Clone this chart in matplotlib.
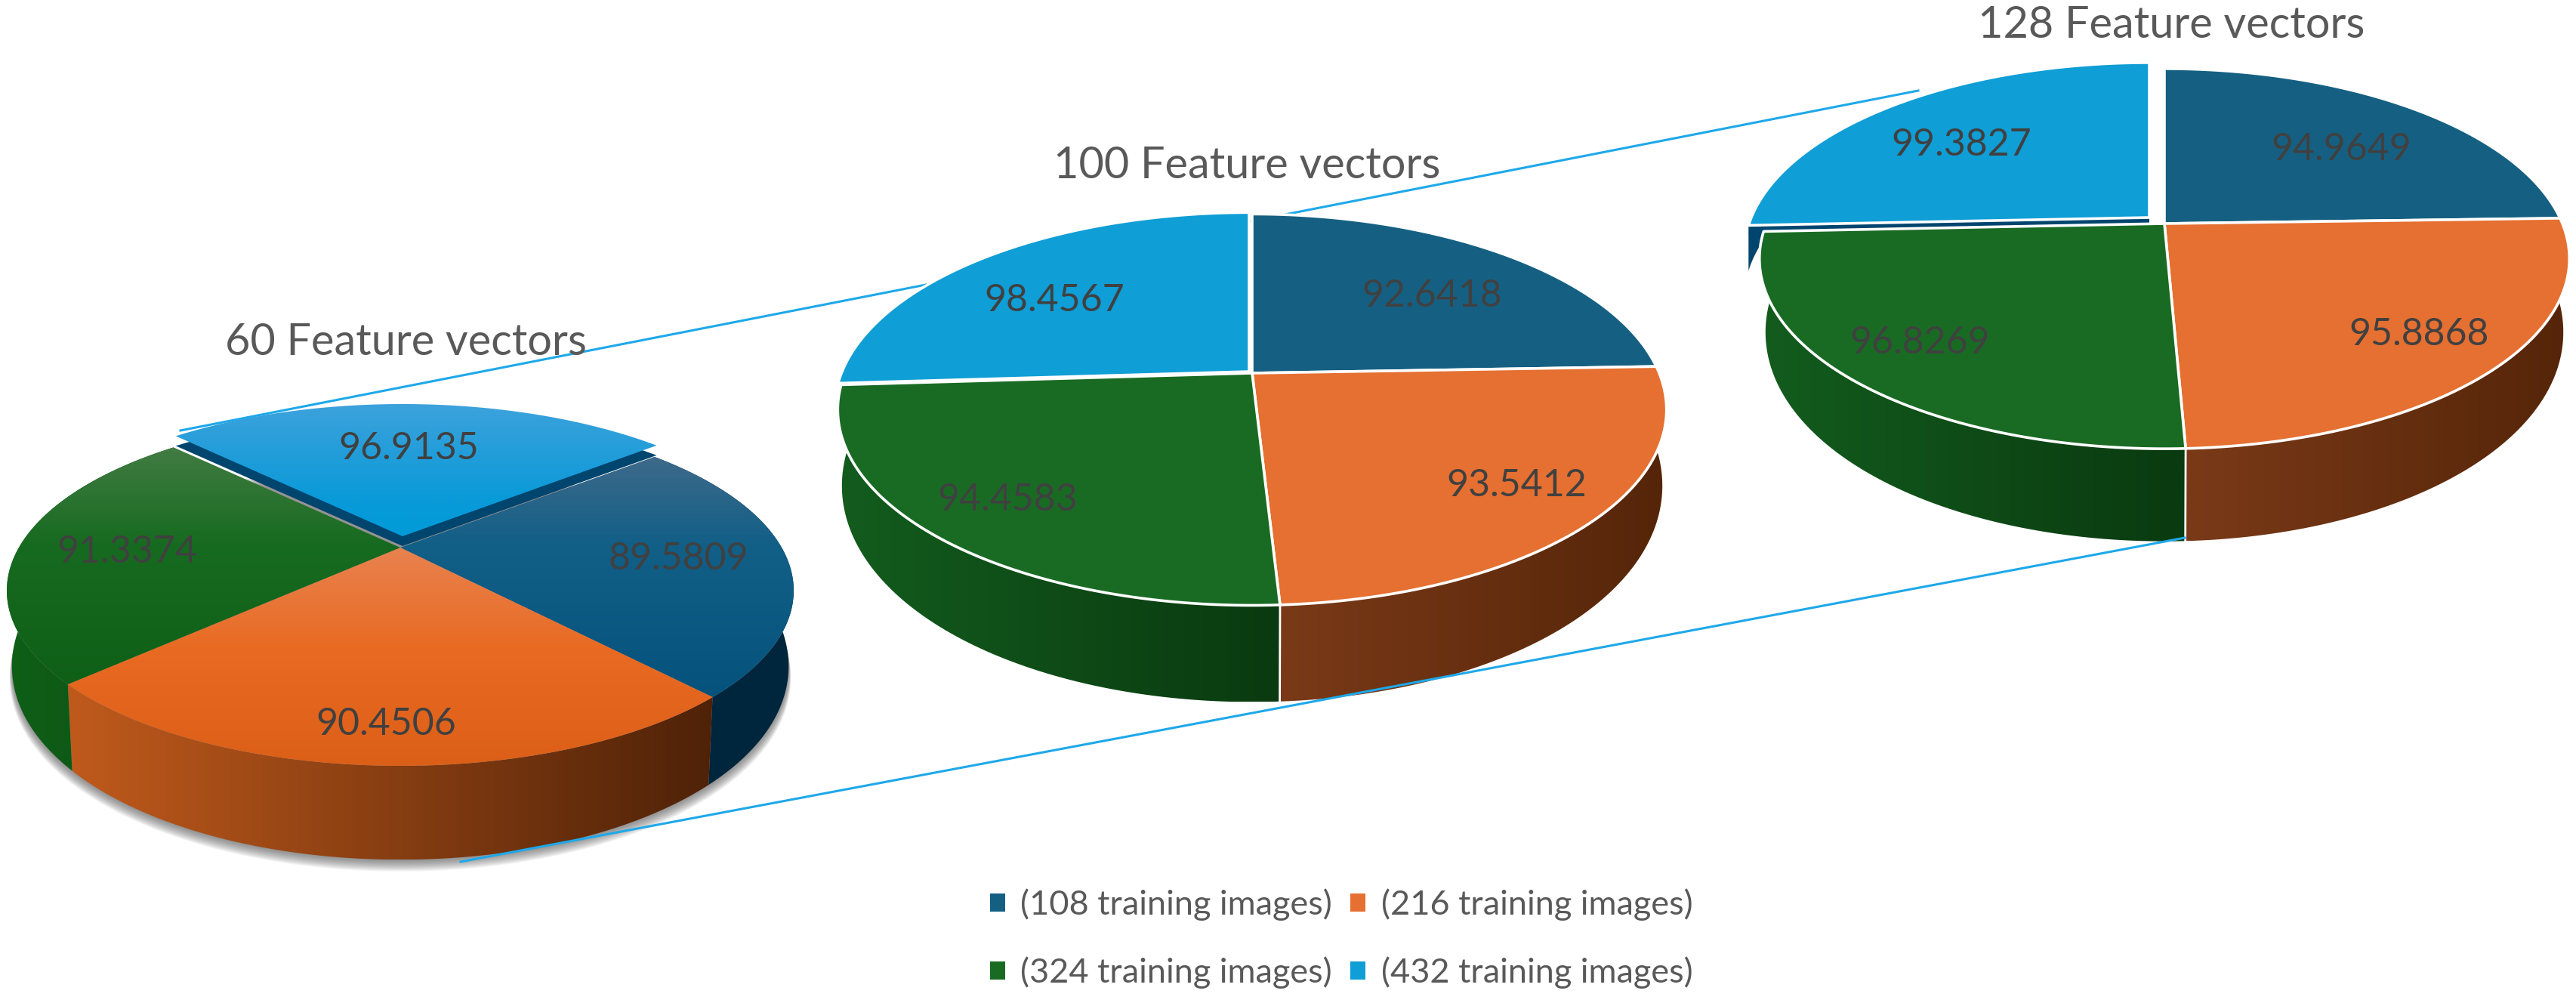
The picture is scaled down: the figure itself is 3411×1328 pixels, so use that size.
import numpy as np
import matplotlib
matplotlib.use("Agg")
import matplotlib.pyplot as plt
from matplotlib.colors import to_rgb
from matplotlib.patches import Patch, Polygon

plt.rcParams['font.family'] = ['Lato', 'DejaVu Sans']

# the chart's values
titles = ["60 Feature vectors", "100 Feature vectors", "128 Feature vectors"]
legend_labels = ["(108 training images)", "(216 training images)", "(324 training images)", "(432 training images)"]
acc_60 = [89.5809, 90.4506, 91.3374, 96.9135]
acc_100 = [92.6418, 93.5412, 94.4583, 98.4567]
acc_128 = [94.9649, 95.8868, 96.8269, 99.3827]
all_acc = [acc_60, acc_100, acc_128]

colors = ['#156082', '#E57031', '#196B24', '#0F9ED5']

# axes run in image pixels, each pie is a flat circle seen through a perspective k
pies = [
    dict(cx=530, cy=725, a=505, h=218, k=0.2456, s=0.987, d=128, start=50.4, off=(3, -15), wall=13, wall_side=0, wall_z=4.5),
    dict(cx=1658, cy=494, a=539, h=250, k=0.187, s=0.99, d=131, start=0, off=(-4, -2), wall=0, wall_side=0, wall_z=3.5),
    dict(cx=2866, cy=296, a=527, h=243, k=0.185, s=0.985, d=127, start=0, off=(-20, -8), wall=11, wall_side=60, wall_z=3.5),
]
title_pos = [(537, 453), (1651, 219), (2875, 33)]
label_pos = [
    [(898, 740), (511, 959), (168, 731), (541, 594)],
    [(1896, 392), (2008, 643), (1334, 662), (1396, 398)],
    [(3100, 198), (3203, 443), (2542, 454), (2597, 192)],
]

# gradients: (top face stops per slice for the first pie, side colours left/right)
pie1_top = [
    [(602, '#3f6a8a'), (720, '#125f87'), (923, '#05527d')],
    [(725, '#e8824f'), (860, '#e96a22'), (1014, '#dc5f18')],
    [(591, '#427c43'), (720, '#176b20'), (910, '#0f5f17')],
    [(535, '#3da2dc'), (660, '#0a9ad8'), (710, '#009ad9')],
]
pie1_side = [('#00263d', '#00263d'), ('#c05a1c', '#4f2208'), ('#0f5f17', '#0c5216'), ('#00456e', '#00456e')]
flat_side = [('#00263d', '#00263d'), ('#7a3a18', '#552509'), ('#135c1e', '#0a3a10'), ('#00456e', '#00456e')]

fig = plt.figure(figsize=(34.11, 13.28), dpi=100)
ax = fig.add_axes([0, 0, 1, 1])


def top_rim(p, deg):
    t = np.radians(deg)
    den = 1 + p['k'] * np.cos(t)
    return p['cx'] + p['a'] * np.sin(t) / den, p['cy'] - p['h'] * np.cos(t) / den


def low_rim(p, deg):
    # the wall looks taller at the front than at the sides
    x, y = top_rim(p, deg)
    depth = p['d'] * (0.72 - 0.28 * np.cos(np.radians(deg)))
    return p['cx'] + p['s'] * (x - p['cx']), p['cy'] + p['s'] * (y - p['cy']) + depth


def fill_grad(pts, stops, axis, z):
    # paints a gradient image and clips it to the polygon
    pts = np.asarray(pts)
    patch = Polygon(pts, closed=True, transform=ax.transData, fc='none', ec='none')
    ax.add_patch(patch)
    x0, x1 = pts[:, 0].min(), pts[:, 0].max()
    y0, y1 = pts[:, 1].min(), pts[:, 1].max()
    pos = [s[0] for s in stops]
    rgb = np.array([to_rgb(s[1]) for s in stops])
    if axis == 'y':
        q = np.linspace(y0, y1, 256)
    else:
        q = np.linspace(x0, x1, 256)
    g = np.stack([np.interp(q, pos, rgb[:, i]) for i in range(3)], axis=-1)
    g = g[:, None, :] if axis == 'y' else g[None, :, :]
    im = ax.imshow(g, extent=(x0, x1, y1, y0), aspect='auto', zorder=z, interpolation='bilinear')
    im.set_clip_path(patch)


# connector lines between the pies
ax.plot([239, 2540], [570, 120], color='#1ea8ea', lw=2.2, zorder=1)
ax.plot([610, 2893], [1141, 712], color='#1ea8ea', lw=2.2, zorder=5)

for n, (vals, p) in enumerate(zip(all_acc, pies)):
    shares = np.array(vals) / sum(vals) * 360
    edges = p['start'] + np.concatenate([[0], np.cumsum(shares)])
    last = len(vals) - 1

    if n == 0:
        # soft shadow under the first pie
        th = np.linspace(0, 360, 240)
        lx, ly = low_rim(p, th)
        for i in range(1, 13):
            sh = np.column_stack([p['cx'] + (lx - p['cx']) * (1 + i * 0.0005), ly + i * 1.3])
            ax.add_patch(Polygon(sh, closed=True, fc='#505050', ec='none', alpha=0.07, zorder=2))

    for i in range(4):
        th = np.linspace(edges[i], edges[i + 1], 90)
        tx, ty = top_rim(p, th)

        # outer wall of the slice, on the flat pies the ends run on behind the top face
        if i != last:
            a0, a1 = edges[i], edges[i + 1]
            if n > 0 and i == 1:
                a0 -= 35
            if n > 0 and i == 2:
                a1 += 35
            wth = np.linspace(a0, a1, 120)
            wx, wy = top_rim(p, wth)
            lx, ly = low_rim(p, wth)
            wall_pts = np.column_stack([np.r_[wx, lx[::-1]], np.r_[wy, ly[::-1]]])
            c = (pie1_side if n == 0 else flat_side)[i]
            fill_grad(wall_pts, [(wall_pts[:, 0].min(), c[0]), (wall_pts[:, 0].max(), c[1])], 'x', 3)

        ox, oy = (p['off'] if i == last else (0, 0))
        face = np.column_stack([np.r_[p['cx'], tx] + ox, np.r_[p['cy'], ty] + oy])

        if i == last and p['wall_side']:
            bit = np.column_stack([np.r_[tx, tx[::-1]] + ox, np.r_[ty, ty[::-1] + p['wall_side']] + oy])
            ax.add_patch(Polygon(bit, closed=True, fc='#00456e', ec='none', zorder=3.2))
        if i == last and p['wall']:
            ax.add_patch(Polygon(face + [0, p['wall']], closed=True, fc='#00456e', ec='none', zorder=p['wall_z']))

        z = 4.6 if i == last else 4
        if n == 0:
            fill_grad(face, pie1_top[i], 'y', z)
        else:
            ax.add_patch(Polygon(face, closed=True, fc=colors[i], ec='white', lw=2.6, joinstyle='round', zorder=z))

    # white seam where two side walls meet at the front
    if n > 0:
        for e in edges[:-1]:
            x0, y0 = top_rim(p, e)
            x1, y1 = low_rim(p, e)
            if y0 > p['cy'] + 50:
                ax.plot([x0, x1], [y0, y1], color='white', lw=2, zorder=3.5)

    for v, (lx_, ly_) in zip(vals, label_pos[n]):
        ax.text(lx_, ly_, "%.4f" % v, ha='center', va='center', fontsize=36, color='#404040', zorder=6)
    ax.text(title_pos[n][0], title_pos[n][1], titles[n], ha='center', va='center', fontsize=41.5, color='#595959', zorder=6)

handles = [Patch(fc=c, ec='none') for c in colors]
order = [0, 2, 1, 3]
ax.legend([handles[i] for i in order], [legend_labels[i] for i in order], ncol=2, loc='center',
          bbox_to_anchor=(1776, 1243), bbox_transform=ax.transData, frameon=False,
          fontsize=32.5, labelcolor='#595959', handlelength=0.44, handleheight=0.44,
          handletextpad=0.45, columnspacing=0.55, labelspacing=1.05)

ax.set_xlim(0, 3411)
ax.set_ylim(1328, 0)
ax.axis('off')
fig.savefig('out.png', dpi=100, facecolor='white')
